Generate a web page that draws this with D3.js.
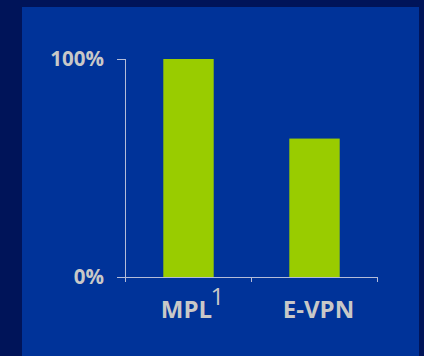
<!DOCTYPE html>
<html><head><meta charset="utf-8">
<script src="https://cdn.jsdelivr.net/npm/d3@7"></script>
<style>html,body{margin:0;padding:0;background:#001459;}svg{display:block;}</style>
</head><body>
<script>
const categories = ["MPL", "E-VPN"];
const superscripts = ["1", ""];
const values = [1.0, 0.635];
const yTicks = [0, 1];
const yTickLabels = ["0%", "100%"];

const W = 424, H = 356;
const svg = d3.select("body").append("svg").attr("width", W).attr("height", H);
svg.append("rect").attr("width", W).attr("height", H).attr("fill", "#001459");
svg.append("rect").attr("x", 22).attr("y", 7).attr("width", 397).attr("height", H - 7).attr("fill", "#003399");

const y = d3.scaleLinear().domain([0, 1]).range([277, 59]);
const x = d3.scaleBand().domain(categories).range([125.5, 377.5]);
const axisColor = "#b4bcd8";
const textColor = "#c8c8c8";
const font = "'Open Sans', sans-serif";

// bars
const bw = x.bandwidth() * 0.4;
svg.selectAll("rect.bar").data(values).enter().append("rect")
  .attr("class", "bar")
  .attr("x", (d, i) => x(categories[i]) + (x.bandwidth() - bw) / 2)
  .attr("y", d => y(d))
  .attr("width", bw)
  .attr("height", d => y(0) - y(d))
  .attr("fill", "#99cc00");

// y axis line
svg.append("line").attr("x1", 125.5).attr("x2", 125.5).attr("y1", y(1)).attr("y2", y(0))
  .attr("stroke", axisColor).attr("stroke-width", 1);
// y ticks
svg.selectAll("line.ytick").data(yTicks).enter().append("line")
  .attr("x1", 117).attr("x2", 125.5)
  .attr("y1", d => Math.round(y(d)) + 0.5).attr("y2", d => Math.round(y(d)) + 0.5)
  .attr("stroke", axisColor).attr("stroke-width", 1);
svg.selectAll("text.ylab").data(yTicks).enter().append("text")
  .attr("x", 104).attr("y", d => y(d))
  .attr("dy", "0.35em")
  .attr("text-anchor", "end")
  .attr("font-family", font).attr("font-weight", "bold").attr("font-size", 20.5)
  .attr("fill", textColor)
  .text((d, i) => yTickLabels[i]);

// x axis line
svg.append("line").attr("x1", 117).attr("x2", x.range()[1]).attr("y1", y(0) + 0.5).attr("y2", y(0) + 0.5)
  .attr("stroke", axisColor).attr("stroke-width", 1);
const bounds = categories.map(c => x(c)).concat([x.range()[1]]);
svg.selectAll("line.xtick").data(bounds).enter().append("line")
  .attr("x1", d => d).attr("x2", d => d)
  .attr("y1", y(0)).attr("y2", y(0) + 5)
  .attr("stroke", axisColor).attr("stroke-width", 1);

// category labels
const lab = svg.selectAll("text.xlab").data(categories).enter().append("text")
  .attr("x", (d, i) => x(d) + x.bandwidth() / 2 + 4)
  .attr("y", 317.5)
  .attr("text-anchor", "middle")
  .attr("font-family", font).attr("font-size", 24)
  .attr("fill", textColor);
lab.append("tspan").attr("font-weight", "bold").text(d => d);
lab.append("tspan").attr("dy", -12.5).attr("dx", -1.5).attr("font-size", 24).text((d, i) => superscripts[i]);
</script>
</body></html>
